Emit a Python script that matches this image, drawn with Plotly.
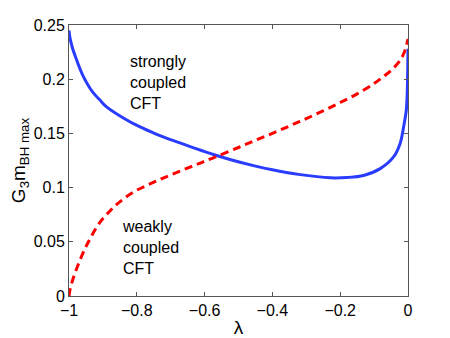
import plotly.graph_objects as go

# strongly coupled CFT (solid blue)
strong_lam = [-1, -0.997, -0.99, -0.979, -0.96, -0.93, -0.91, -0.891, -0.841, -0.792, -0.743, -0.694,
              -0.63, -0.574, -0.52, -0.456, -0.4, -0.323, -0.229, -0.18, -0.131, -0.082,
              -0.042, -0.023, -0.013, -0.005, -0.002, -0.001, 0]
strong_m = [0.245, 0.238, 0.229, 0.219, 0.204, 0.188, 0.1812, 0.175, 0.1645, 0.1562, 0.1494, 0.1435,
            0.1364, 0.1305, 0.1255, 0.1203, 0.1164, 0.1122, 0.1090, 0.1093, 0.1112, 0.1175,
            0.1285, 0.141, 0.156, 0.1716, 0.190, 0.205, 0.228]

# weakly coupled CFT (dashed red)
weak_lam = [-1, -0.997, -0.99, -0.979, -0.95, -0.911, -0.885, -0.861, -0.812, -0.753, -0.694, -0.63,
            -0.574, -0.5, -0.45, -0.4, -0.347, -0.3, -0.249, -0.2, -0.15, -0.1, -0.072,
            -0.045, -0.023, -0.01, -0.003, 0]
weak_m = [0, 0.006, 0.014, 0.024, 0.0455, 0.067, 0.0765, 0.084, 0.0955, 0.1045, 0.1125, 0.1205,
          0.1275, 0.137, 0.1436, 0.150, 0.1572, 0.1637, 0.171, 0.1785, 0.1865, 0.196, 0.2025,
          0.2095, 0.2175, 0.2255, 0.233, 0.237]

labels = ["strongly<br>coupled<br>CFT", "weakly<br>coupled<br>CFT"]
label_pos = [(-0.827, 0.197), (-0.849, 0.045)]

fig = go.Figure()
fig.add_trace(go.Scatter(x=strong_lam, y=strong_m, mode="lines", line_shape="spline",
                         line=dict(color="#2a3cff", width=3), cliponaxis=False))
fig.add_trace(go.Scatter(x=weak_lam, y=weak_m, mode="lines", line_shape="spline",
                         line=dict(color="#ff0000", width=3, dash="8px,5px"), cliponaxis=False))

for txt, (ax, ay) in zip(labels, label_pos):
    fig.add_annotation(x=ax, y=ay, text=txt, showarrow=False, align="left",
                       xanchor="left", yanchor="middle",
                       font=dict(size=16, color="black", family="Liberation Sans, Arial"))

axis_style = dict(showline=True, linecolor="#555", linewidth=1, mirror="ticks",
                  ticks="inside", ticklen=4, tickcolor="#555", showgrid=False, zeroline=False,
                  automargin=False, tickfont=dict(size=16, color="black"))

fig.update_xaxes(range=[-1, 0], dtick=0.2, title=dict(text="λ", standoff=2), **axis_style)
fig.update_yaxes(range=[0, 0.25], dtick=0.05,
                 title=dict(text="G<sub>3</sub>m<sub>BH max</sub>", standoff=4), **axis_style)

# page body adds ~8px offset, so the figure is a bit smaller than the window
fig.update_layout(width=442, height=330, margin=dict(l=61, r=42, t=17, b=42),
                  plot_bgcolor="white", paper_bgcolor="white", showlegend=False,
                  font=dict(family="Liberation Sans, Arial", size=16, color="black"))

fig.write_html("out.html")
